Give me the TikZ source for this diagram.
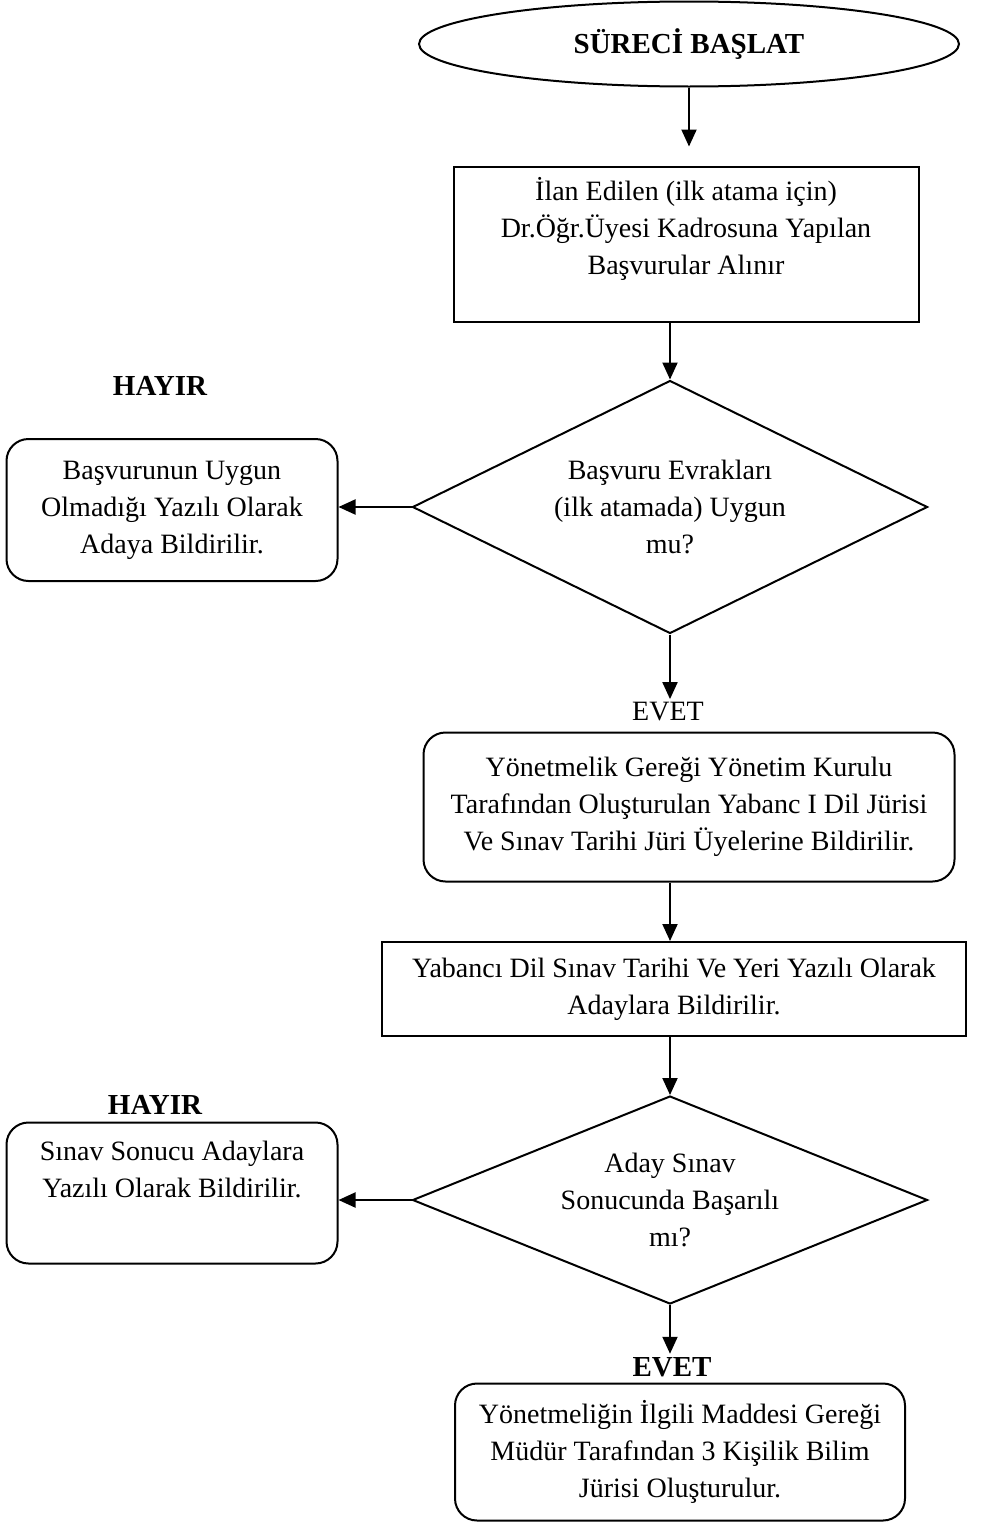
\documentclass[tikz,border=0pt]{standalone}
\usepackage{fontspec}
\setmainfont{Liberation Serif}
\usetikzlibrary{shapes.geometric,arrows.meta}

\tikzset{
    startbox/.style={ellipse, draw, line width=2pt, minimum width=540pt, minimum height=85pt,
        font=\fontsize{29}{37}\selectfont\bfseries},
    stepbox/.style={rectangle, draw, line width=2pt},
    roundbox/.style={rectangle, draw, rounded corners=22pt, line width=2pt},
    decision/.style={diamond, draw, line width=2pt, inner sep=0pt},
    answer/.style={font=\fontsize{29}{37}\selectfont\bfseries},
    arr/.style={line width=2pt, -{Triangle[length=17pt,width=15pt]}},
}

\begin{document}
\begin{tikzpicture}[x=1pt, y=-1pt, every node/.style={font=\fontsize{28}{37}\selectfont, align=center}]

    \useasboundingbox (0,0) rectangle (1003,1523);

    \node[startbox] (start) at (689,44) {SÜRECİ BAŞLAT};
    \node[stepbox, minimum width=465pt, minimum height=155pt] (ilan) at (686,244)
        {İlan Edilen (ilk atama için)\\Dr.Öğr.Üyesi Kadrosuna Yapılan\\Başvurular Alınır\\[-12pt]\strut};

    % first check
    \node[decision, aspect=2.04, minimum width=515pt, minimum height=253pt] (evrak) at (670,507)
        {Başvuru Evrakları\\(ilk atamada) Uygun\\mu?};
    \node[answer] (hayir1) at (160,386) {HAYIR};
    \node[roundbox, minimum width=331pt, minimum height=142pt] (red1) at (172,510)
        {Başvurunun Uygun\\Olmadığı Yazılı Olarak\\Adaya Bildirilir.};
    \node (evet1) at (668,712) {EVET};

    \node[roundbox, minimum width=531pt, minimum height=149pt] (juri) at (689,807)
        {Yönetmelik Gereği Yönetim Kurulu\\Tarafından Oluşturulan Yabanc I Dil Jürisi\\Ve Sınav Tarihi Jüri Üyelerine Bildirilir.};
    \node[stepbox, minimum width=584pt, minimum height=94pt] (sinav) at (674,989)
        {Yabancı Dil Sınav Tarihi Ve Yeri Yazılı Olarak\\Adaylara Bildirilir.};

    % second check
    \node[decision, aspect=2.48, minimum width=515pt, minimum height=208pt] (basari) at (670,1200)
        {Aday Sınav\\Sonucunda Başarılı\\mı?};
    \node[answer] (hayir2) at (155,1105) {HAYIR};
    \node[roundbox, minimum width=331pt, minimum height=141pt] (red2) at (172,1193)
        {Sınav Sonucu Adaylara\\Yazılı Olarak Bildirilir.\\\strut};
    \node[answer] (evet2) at (672,1367) {EVET};

    \node[roundbox, minimum width=450pt, minimum height=137pt] (bilim) at (680,1452)
        {Yönetmeliğin İlgili Maddesi Gereği\\Müdür Tarafından 3 Kişilik Bilim\\Jürisi Oluşturulur.};

    % arrows
    \draw[arr, shorten >=19pt] (start.south) -- (start.south |- ilan.north);
    \draw[arr] (evrak.north |- ilan.south) -- (evrak.north);
    \draw[arr] (evrak.west) -- (evrak.west -| red1.east);
    \draw[arr] (evrak.south) -- (evrak.south |- evet1.north);
    \draw[arr] (evrak.south |- juri.south) -- (evrak.south |- sinav.north);
    \draw[arr] (basari.north |- sinav.south) -- (basari.north);
    \draw[arr] (basari.west) -- (basari.west -| red2.east);
    \draw[arr] (basari.south) -- (basari.south |- evet2.north);

\end{tikzpicture}
\end{document}
